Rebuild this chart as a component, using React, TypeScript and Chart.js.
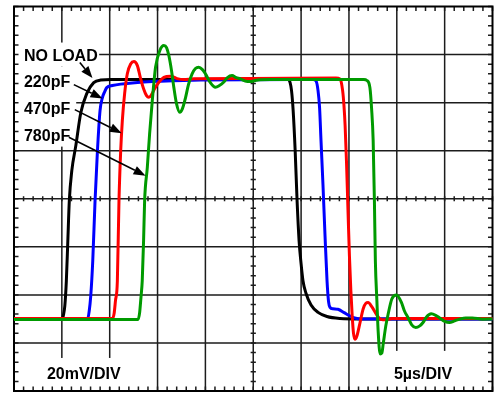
import React, { useEffect, useRef } from "react";
import { Chart, registerables } from "chart.js";

Chart.register(...registerables);

// Time axis: 5 µs/DIV (10 divisions), voltage axis: 20 mV/DIV (8 divisions)
const X_MIN = 0;
const X_MAX = 50;
const Y_MIN = 0;
const Y_MAX = 160;
const X_DIV = 5;
const Y_DIV = 20;
const X_MINOR = 1;
const Y_MINOR = 4;

// NO LOAD (black)
const blackT = [0, 5.05, 5.16, 5.31, 5.47, 5.625, 5.78, 6.04, 6.46, 6.98, 7.6, 8.33, 9.06, 10.1, 28.65, 28.85, 29.0, 29.17, 29.38, 29.58, 29.79, 30.0, 30.2, 30.5, 31.04, 31.77, 32.7, 34.06, 36.15, 50];
const blackV = [30, 30, 31.5, 35.4, 45.8, 62.5, 79.2, 91.7, 102.1, 115.8, 123.75, 128.3, 129.4, 129.6, 129.6, 128.3, 125, 116.7, 100, 79.2, 62.5, 52.9, 45.8, 40.8, 35.8, 32.7, 31, 30.2, 30, 30];

// 220pF (blue)
const blueT = [0, 7.7, 7.86, 8.02, 8.23, 8.47, 8.72, 8.99, 9.24, 9.48, 9.69, 10.28, 11.15, 13.23, 15.31, 19.5, 31.25, 31.56, 31.77, 31.93, 32.08, 32.29, 32.5, 32.71, 32.86, 33.02, 33.33, 33.85, 34.5, 35.1, 35.6, 36.35, 50];
const blueV = [30, 30, 33.3, 39.6, 54.2, 79.2, 100, 116.7, 122.1, 124.6, 126.25, 127.1, 127.7, 128.5, 128.9, 129.4, 129.6, 129, 125, 117.9, 104.2, 85.4, 64.6, 45.8, 37.5, 34.8, 34.2, 34, 32.6, 31.25, 30.4, 30, 30];

// 470pF (red)
const redT = [0, 10.3, 10.47, 10.6, 10.8, 10.97, 11.15, 11.32, 11.56, 11.84, 12.19, 12.53, 12.89, 13.23, 13.54, 13.85, 14.09, 14.37, 14.69, 15.14, 15.66, 16.35, 17.05, 17.74, 18.78, 24.7, 33.65, 34.06, 34.34, 34.48, 34.6, 34.74, 34.9, 35.05, 35.2, 35.34, 35.47, 35.63, 35.83, 36.15, 36.49, 36.77, 37.0, 37.4, 37.9, 38.33, 38.85, 39.48, 50];
const redV = [30.2, 30.2, 32.5, 37.5, 45.8, 79.2, 100, 112.5, 123.75, 132, 136.1, 137.1, 135.4, 130, 125.8, 122.9, 122.2, 123.3, 125.8, 128.5, 130.5, 131, 130, 129.6, 129.9, 130, 130.2, 129.8, 125, 118.75, 110.4, 95.8, 75, 56.25, 41.7, 31.25, 24.2, 21.5, 22.9, 28.3, 34.2, 36.5, 36.8, 35, 31.7, 29.8, 29.6, 30.2, 30.2];

// 780pF (green)
const greenT = [0, 12.97, 13.125, 13.28, 13.4, 13.54, 13.65, 13.93, 14.17, 14.45, 14.79, 15.24, 15.66, 15.94, 16.18, 16.46, 16.7, 16.98, 17.32, 17.6, 17.92, 18.23, 18.61, 18.96, 19.3, 19.69, 20.0, 20.52, 21.04, 21.46, 21.9, 22.3, 22.78, 23.23, 23.65, 24.17, 24.69, 25.2, 25.73, 26.77, 36.56, 36.875, 37.19, 37.36, 37.53, 37.66, 37.76, 37.92, 38.05, 38.26, 38.44, 38.58, 38.85, 39.1, 39.48, 39.97, 40.49, 40.8, 41.18, 41.56, 41.98, 42.4, 42.74, 43.1, 43.6, 44.06, 44.48, 45.0, 45.5, 46.04, 46.56, 47.2, 47.9, 48.96, 50];
const greenV = [29.8, 29.8, 32.5, 39.6, 45.8, 62.5, 79.2, 93, 107, 120.8, 134.7, 141.7, 143.75, 142.9, 139.6, 133.3, 126.4, 119.6, 116, 117.5, 122, 127.5, 132, 134.2, 134.7, 133.75, 132, 128.3, 126.4, 127.1, 128.5, 130.4, 131.25, 130.4, 129.9, 128.96, 128.75, 129.2, 129.5, 129.6, 129.6, 129.2, 126.25, 117.9, 104.2, 79.2, 54.2, 37.5, 25, 15.4, 15.8, 19.6, 27.1, 32.1, 38.3, 40, 36.8, 33.3, 30.5, 27.5, 26.4, 27.1, 28.5, 30.8, 32.1, 31.5, 30.4, 29, 28.5, 29.2, 29.9, 30.4, 30.4, 29.9, 30];

const seriesLabels = ["NO LOAD", "220pF", "470pF", "780pF"];
const seriesColors = ["#000000", "#0000ff", "#ff0000", "#009a00"];

// Label text anchors (data units: µs, mV): left x, baseline y
const labelX = [1.04, 1.04, 1.04, 1.04];
const labelY = [137.5, 126.7, 115.2, 104.2];
// Arrows from each label to its trace: [x1, y1, x2, y2] in data units
const arrowFrom = [[6.875, 136.7], [6.25, 127.5], [6.35, 117.1], [5.73, 105.6]];
const arrowTo = [[8.2, 130.2], [9.25, 121.7], [11.25, 107.3], [13.75, 89.6]];

const scaleTexts = ["20mV/DIV", "5µs/DIV"];
const scaleTextX = [3.44, 39.7];
const scaleTextY = [5, 5];

const FONT = 'bold 16px "Liberation Sans", Arial, Helvetica, sans-serif';

function range(a: number, b: number, s: number): number[] {
  const out: number[] = [];
  for (let v = a; v <= b + 1e-9; v += s) out.push(Math.round(v * 1000) / 1000);
  return out;
}

const scopePlugin = {
  id: "scopeGrid",
  beforeDatasetsDraw(chart: any) {
    const { ctx, chartArea: ca, scales } = chart;
    const xs = scales.x;
    const ys = scales.y;
    const X = (v: number) => xs.getPixelForValue(v);
    const Y = (v: number) => ys.getPixelForValue(v);
    ctx.save();
    // major grid
    ctx.strokeStyle = "#1c1c1c";
    ctx.lineWidth = 1.5;
    ctx.beginPath();
    for (const t of range(X_MIN + X_DIV, X_MAX - X_DIV, X_DIV)) {
      ctx.moveTo(X(t), ca.top);
      ctx.lineTo(X(t), ca.bottom);
    }
    for (const v of range(Y_MIN + Y_DIV, Y_MAX - Y_DIV, Y_DIV)) {
      ctx.moveTo(ca.left, Y(v));
      ctx.lineTo(ca.right, Y(v));
    }
    ctx.stroke();
    // minor ticks on center lines
    const cx = X((X_MIN + X_MAX) / 2);
    const cy = Y((Y_MIN + Y_MAX) / 2);
    ctx.beginPath();
    for (const t of range(X_MIN, X_MAX, X_MINOR)) {
      ctx.moveTo(X(t), cy - 2.6);
      ctx.lineTo(X(t), cy + 2.6);
    }
    for (const v of range(Y_MIN, Y_MAX, Y_MINOR)) {
      ctx.moveTo(cx - 2.6, Y(v));
      ctx.lineTo(cx + 2.6, Y(v));
    }
    ctx.stroke();

    // white label backgrounds
    ctx.fillStyle = "#ffffff";
    const rect = (x1: number, y1: number, x2: number, y2: number) => {
      ctx.fillRect(X(x1), Y(y2), X(x2) - X(x1), Y(y1) - Y(y2));
    };
    rect(0, 135, 8.9, 145);
    rect(0, 101.7, 6.5, 135);
    rect(0.6, 1.7, 12.7, 13.75);
    rect(35.6, 1.7, 49.5, 16.7);

    // texts
    ctx.fillStyle = "#000000";
    ctx.font = FONT;
    ctx.textBaseline = "alphabetic";
    ctx.textAlign = "left";
    seriesLabels.forEach((s, i) => ctx.fillText(s, X(labelX[i]), Y(labelY[i])));
    scaleTexts.forEach((s, i) => ctx.fillText(s, X(scaleTextX[i]), Y(scaleTextY[i])));

    // edge minor ticks
    ctx.strokeStyle = "#1c1c1c";
    ctx.lineWidth = 1.5;
    ctx.beginPath();
    for (const t of range(X_MIN, X_MAX, X_MINOR)) {
      ctx.moveTo(X(t), ca.top);
      ctx.lineTo(X(t), ca.top + 4.5);
      ctx.moveTo(X(t), ca.bottom);
      ctx.lineTo(X(t), ca.bottom - 4.5);
    }
    for (const v of range(Y_MIN, Y_MAX, Y_MINOR)) {
      ctx.moveTo(ca.left, Y(v));
      ctx.lineTo(ca.left + 4.5, Y(v));
      ctx.moveTo(ca.right, Y(v));
      ctx.lineTo(ca.right - 4.5, Y(v));
    }
    ctx.stroke();
    // frame
    ctx.strokeStyle = "#000000";
    ctx.lineWidth = 2;
    ctx.strokeRect(ca.left, ca.top, ca.right - ca.left, ca.bottom - ca.top);
    ctx.restore();
  },
  afterDatasetsDraw(chart: any) {
    const { ctx, scales } = chart;
    const X = (v: number) => scales.x.getPixelForValue(v);
    const Y = (v: number) => scales.y.getPixelForValue(v);
    ctx.save();
    ctx.strokeStyle = "#000000";
    ctx.fillStyle = "#000000";
    ctx.lineWidth = 1.6;
    for (let i = 0; i < arrowFrom.length; i++) {
      const x1 = X(arrowFrom[i][0]);
      const y1 = Y(arrowFrom[i][1]);
      const x2 = X(arrowTo[i][0]);
      const y2 = Y(arrowTo[i][1]);
      const a = Math.atan2(y2 - y1, x2 - x1);
      const L = 12;
      const W = 4.5;
      const bx = x2 - L * Math.cos(a);
      const by = y2 - L * Math.sin(a);
      ctx.beginPath();
      ctx.moveTo(x1, y1);
      ctx.lineTo(bx, by);
      ctx.stroke();
      ctx.beginPath();
      ctx.moveTo(x2, y2);
      ctx.lineTo(bx + W * Math.sin(a), by - W * Math.cos(a));
      ctx.lineTo(bx - W * Math.sin(a), by + W * Math.cos(a));
      ctx.closePath();
      ctx.fill();
    }
    ctx.restore();
  },
};

function toPoints(ts: number[], vs: number[]) {
  return ts.map((t, i) => ({ x: t, y: vs[i] }));
}

export default function App() {
  const canvasRef = useRef<HTMLCanvasElement | null>(null);

  useEffect(() => {
    if (!canvasRef.current) return;
    const series = [
      toPoints(blackT, blackV),
      toPoints(blueT, blueV),
      toPoints(redT, redV),
      toPoints(greenT, greenV),
    ];
    const chart = new Chart(canvasRef.current, {
      type: "line",
      data: {
        datasets: series.map((pts, i) => ({
          label: seriesLabels[i],
          data: pts,
          borderColor: seriesColors[i],
          backgroundColor: seriesColors[i],
          borderWidth: 3,
          pointRadius: 0,
          fill: false,
          cubicInterpolationMode: "monotone" as const,
          borderJoinStyle: "round" as const,
          borderCapStyle: "round" as const,
          order: series.length - 1 - i,
        })),
      },
      options: {
        animation: false,
        responsive: true,
        maintainAspectRatio: false,
        layout: { padding: { left: 14, right: 11.5, top: 6.5, bottom: 6 } },
        plugins: {
          legend: { display: false },
          tooltip: { enabled: false },
          title: { display: false },
        },
        events: [],
        scales: {
          x: { type: "linear", min: X_MIN, max: X_MAX, display: false },
          y: { type: "linear", min: Y_MIN, max: Y_MAX, display: false },
        },
      },
      plugins: [scopePlugin],
    });
    return () => chart.destroy();
  }, []);

  return (
    <div
      style={{
        position: "fixed",
        left: 0,
        top: 0,
        width: 504,
        height: 397,
        background: "#ffffff",
      }}
    >
      <canvas ref={canvasRef} />
    </div>
  );
}
